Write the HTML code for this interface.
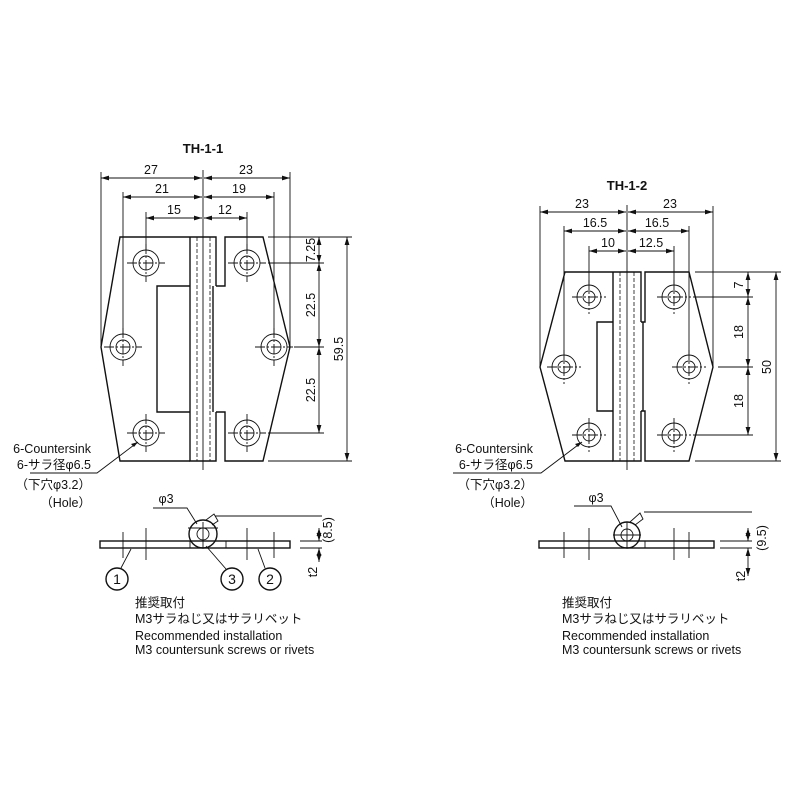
<!DOCTYPE html>
<html><head><meta charset="utf-8"><style>
html,body{margin:0;padding:0;background:#fff}
svg{display:block}
text{font-family:"Liberation Sans","Noto Sans CJK JP",sans-serif;fill:#111}
.t{font-size:12.5px}
.b{font-size:13px;font-weight:bold}
.l{stroke:#111;stroke-width:1.4;fill:none}
.th{stroke:#111;stroke-width:0.9;fill:none}
.d{stroke:#111;stroke-width:0.9;fill:none;marker-start:url(#a);marker-end:url(#a)}
.dash{stroke:#111;stroke-width:0.8;fill:none;stroke-dasharray:4 2}
</style></head><body>
<svg width="800" height="800" viewBox="0 0 800 800">
<defs>
<marker id="a" viewBox="0 0 10 6" refX="10" refY="3" markerWidth="8" markerHeight="5" orient="auto-start-reverse" markerUnits="userSpaceOnUse"><path d="M0,0 L10,3 L0,6z" fill="#111"/></marker>
<g id="hole1"><circle r="13" class="th"/><circle r="7" class="th"/><path d="M-19,0H19M0,-19V19" class="th" stroke-dasharray="10 2 2 2"/></g>
<g id="hole2"><circle r="12" class="th"/><circle r="6" class="th"/><path d="M-17,0H17M0,-17V17" class="th" stroke-dasharray="10 2 2 2"/></g>
</defs>

<!-- ===== TH-1-1 ===== -->
<text x="203" y="153" class="b" text-anchor="middle">TH-1-1</text>
<path d="M101,172V347M123,192V334M146,212V250M203,170V470M247,212V250M274,192V334M290,172V347" class="th"/>
<line x1="101" y1="178" x2="202" y2="178" class="d"/><line x1="204" y1="178" x2="290" y2="178" class="d"/>
<line x1="123" y1="197" x2="202" y2="197" class="d"/><line x1="204" y1="197" x2="274" y2="197" class="d"/>
<line x1="146" y1="218" x2="202" y2="218" class="d"/><line x1="204" y1="218" x2="247" y2="218" class="d"/>
<text x="151" y="174" class="t" text-anchor="middle">27</text><text x="246" y="174" class="t" text-anchor="middle">23</text>
<text x="162" y="193" class="t" text-anchor="middle">21</text><text x="239" y="193" class="t" text-anchor="middle">19</text>
<text x="174" y="214" class="t" text-anchor="middle">15</text><text x="225" y="214" class="t" text-anchor="middle">12</text>
<path d="M190,237H120L101,347L120,461H190" class="l"/>
<path d="M190,237H216V286M216,412V461H190V237" class="l"/>
<path d="M190,286H157V412H190" class="l"/>
<path d="M213,286V412" class="l"/>
<path d="M216,286H225V237H263L290,347L263,461H225V412H216" class="l"/>
<path d="M197,237V461M210,237V461" class="dash"/>
<use href="#hole1" x="146" y="263"/><use href="#hole1" x="123" y="347"/><use href="#hole1" x="146" y="433"/>
<use href="#hole1" x="247" y="263"/><use href="#hole1" x="274" y="347"/><use href="#hole1" x="247" y="433"/>
<path d="M268,237H352M268,263H324M294,347H324M268,433H324M268,461H352" class="th"/>
<line x1="319" y1="237" x2="319" y2="263" class="d"/>
<line x1="319" y1="263" x2="319" y2="347" class="d"/>
<line x1="319" y1="347" x2="319" y2="433" class="d"/>
<line x1="347" y1="237" x2="347" y2="461" class="d"/>
<text class="t" transform="translate(315,250) rotate(-90)" text-anchor="middle">7.25</text>
<text class="t" transform="translate(315,305) rotate(-90)" text-anchor="middle">22.5</text>
<text class="t" transform="translate(315,390) rotate(-90)" text-anchor="middle">22.5</text>
<text class="t" transform="translate(343,349) rotate(-90)" text-anchor="middle">59.5</text>
<text x="91" y="453" class="t" text-anchor="end">6-Countersink</text>
<text x="91" y="469" class="t" text-anchor="end">6-サラ径φ6.5</text>
<text x="91" y="489" class="t" text-anchor="end">（下穴φ3.2）</text>
<text x="91" y="507" class="t" text-anchor="end">（Hole）</text>
<path d="M30,473H97L138,442" class="th"/><path d="M138,442l-7,2l3,3z" fill="#111"/>
<rect x="100" y="541" width="190" height="7" class="l"/>
<path d="M123,532V558M146,528V560M247,528V560M274,532V558M190,541V548M226,541V548" class="th"/>
<circle cx="203" cy="534" r="14" fill="#fff" class="l"/><circle cx="203" cy="534" r="6" class="th"/>
<path d="M188,528H218M203,522V548" class="th"/>
<path d="M206,520L214,514L218,521L212,525" class="th"/>
<path d="M215,516H322M300,541H322M300,548H322" class="th"/>
<line x1="319" y1="528" x2="319" y2="541" class="d"/><line x1="319" y1="562" x2="319" y2="548" class="d"/>
<text class="t" transform="translate(332,530) rotate(-90)" text-anchor="middle">(8.5)</text>
<text class="t" transform="translate(317,572) rotate(-90)" text-anchor="middle">t2</text>
<text x="166" y="503" class="t" text-anchor="middle">φ3</text>
<path d="M153,508H187L197,524" class="th"/>
<circle cx="117" cy="579" r="11" class="l"/><text x="117" y="584" class="t" text-anchor="middle" style="font-size:14px">1</text>
<circle cx="232" cy="579" r="11" class="l"/><text x="232" y="584" class="t" text-anchor="middle" style="font-size:14px">3</text>
<circle cx="270" cy="579" r="11" class="l"/><text x="270" y="584" class="t" text-anchor="middle" style="font-size:14px">2</text>
<path d="M121,568L131,549M226,569L206,546M265,568L258,549" class="th"/>
<text x="135" y="607" class="t">推奨取付</text>
<text x="135" y="623" class="t">M3サラねじ又はサラリベット</text>
<text x="135" y="640" class="t">Recommended installation</text>
<text x="135" y="654" class="t">M3 countersunk screws or rivets</text>

<!-- ===== TH-1-2 ===== -->
<text x="627" y="190" class="b" text-anchor="middle">TH-1-2</text>
<path d="M540,206V367M564,226V354M589,246V284M627,205V470M674,246V284M689,226V354M713,206V367" class="th"/>
<line x1="540" y1="212" x2="626" y2="212" class="d"/><line x1="628" y1="212" x2="713" y2="212" class="d"/>
<line x1="564" y1="231" x2="626" y2="231" class="d"/><line x1="628" y1="231" x2="689" y2="231" class="d"/>
<line x1="589" y1="251" x2="626" y2="251" class="d"/><line x1="628" y1="251" x2="674" y2="251" class="d"/>
<text x="582" y="208" class="t" text-anchor="middle">23</text><text x="670" y="208" class="t" text-anchor="middle">23</text>
<text x="595" y="227" class="t" text-anchor="middle">16.5</text><text x="657" y="227" class="t" text-anchor="middle">16.5</text>
<text x="608" y="247" class="t" text-anchor="middle">10</text><text x="651" y="247" class="t" text-anchor="middle">12.5</text>
<path d="M613,272H565L540,367L565,461H613" class="l"/>
<path d="M613,272H641V322M641,411V461H613V272" class="l"/>
<path d="M613,322H597V411H613" class="l"/>
<path d="M643,322V411" class="l"/>
<path d="M641,322H645V272H689L713,367L689,461H645V411H641" class="l"/>
<path d="M620,272V461M634,272V461" class="dash"/>
<use href="#hole2" x="589" y="297"/><use href="#hole2" x="564" y="367"/><use href="#hole2" x="589" y="435"/>
<use href="#hole2" x="674" y="297"/><use href="#hole2" x="689" y="367"/><use href="#hole2" x="674" y="435"/>
<path d="M695,272H781M693,297H753M718,367H753M693,435H753M695,461H781" class="th"/>
<line x1="748" y1="272" x2="748" y2="297" class="d"/>
<line x1="748" y1="297" x2="748" y2="367" class="d"/>
<line x1="748" y1="367" x2="748" y2="435" class="d"/>
<line x1="776" y1="272" x2="776" y2="461" class="d"/>
<text class="t" transform="translate(743,285) rotate(-90)" text-anchor="middle">7</text>
<text class="t" transform="translate(743,332) rotate(-90)" text-anchor="middle">18</text>
<text class="t" transform="translate(743,401) rotate(-90)" text-anchor="middle">18</text>
<text class="t" transform="translate(771,367) rotate(-90)" text-anchor="middle">50</text>
<text x="533" y="453" class="t" text-anchor="end">6-Countersink</text>
<text x="533" y="469" class="t" text-anchor="end">6-サラ径φ6.5</text>
<text x="533" y="489" class="t" text-anchor="end">（下穴φ3.2）</text>
<text x="533" y="507" class="t" text-anchor="end">（Hole）</text>
<path d="M453,473H541L582,442" class="th"/><path d="M582,442l-7,2l3,3z" fill="#111"/>
<rect x="539" y="541" width="175" height="7" class="l"/>
<path d="M564,532V558M589,528V560M674,528V560M689,532V558M645,541V548" class="th"/>
<circle cx="627" cy="535" r="13" fill="#fff" class="l"/><circle cx="627" cy="535" r="6" class="th"/>
<path d="M613,535H641M627,522V548" class="th"/>
<path d="M630,522L640,513L643,519L635,525" class="th"/>
<path d="M644,512H752M720,541H752M720,548H752" class="th"/>
<line x1="748" y1="528" x2="748" y2="541" class="d"/><line x1="748" y1="576" x2="748" y2="548" class="d"/>
<text class="t" transform="translate(766,538) rotate(-90)" text-anchor="middle">(9.5)</text>
<text class="t" transform="translate(745,576) rotate(-90)" text-anchor="middle">t2</text>
<text x="596" y="502" class="t" text-anchor="middle">φ3</text>
<path d="M574,506H611L622,527" class="th"/>
<text x="562" y="607" class="t">推奨取付</text>
<text x="562" y="623" class="t">M3サラねじ又はサラリベット</text>
<text x="562" y="640" class="t">Recommended installation</text>
<text x="562" y="654" class="t">M3 countersunk screws or rivets</text>
</svg>
</body></html>
